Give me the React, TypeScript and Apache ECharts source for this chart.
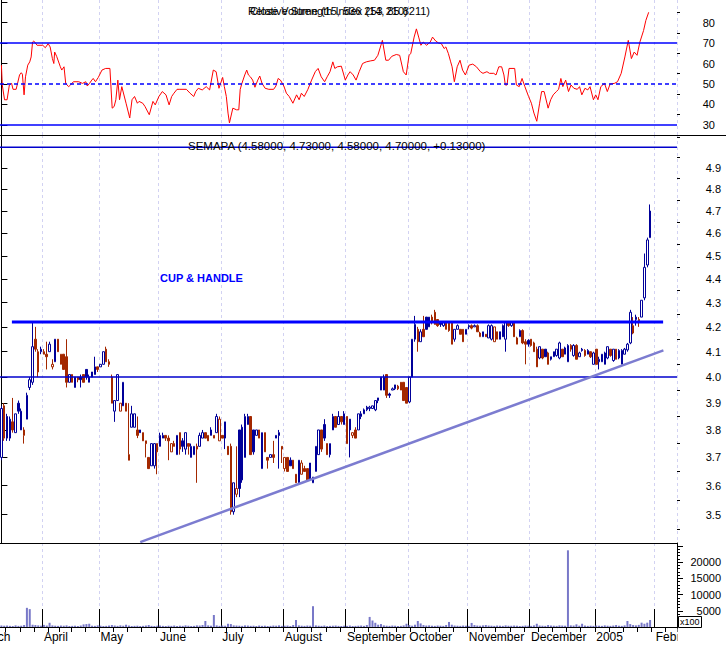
import React, { useEffect, useRef } from "react";
import * as echarts from "echarts";

// ---- calendar ----
const firstDay = "2004-03-11";
const lastDay = "2005-02-10";
const holidays = ["2004-04-09", "2004-04-12"];
// label shown at the first trading day of each month (January 2005 is labelled with the year)
const monthLabels = ["2005", "February", "March", "April", "May", "June", "July", "August", "September", "October", "November", "December"];

// ---- SEMAPA daily candles: [open, close, low, high] ----
const candles: number[][] = [
  [3.70, 3.88, 3.69, 3.89], [3.89, 3.77, 3.76, 3.90], [3.85, 3.77, 3.76, 3.86], [3.77, 3.84, 3.76, 3.85], [3.83, 3.80, 3.79, 3.92],
  [3.79, 3.86, 3.79, 3.86], [3.90, 3.87, 3.86, 3.91], [3.80, 3.87, 3.80, 3.88], [3.78, 3.80, 3.75, 3.81], [3.84, 3.93, 3.84, 3.94],
  [3.96, 3.99, 3.95, 4.00], [3.98, 4.12, 3.97, 4.22], [4.15, 4.11, 4.10, 4.20], [4.02, 4.10, 4.00, 4.11], [4.10, 4.11, 4.09, 4.12],
  [4.10, 4.09, 4.09, 4.11], [4.09, 4.08, 4.03, 4.14], [4.10, 4.13, 4.10, 4.14], [4.04, 4.05, 4.03, 4.07], [4.06, 4.15, 4.06, 4.15],
  [4.15, 4.10, 4.10, 4.15], [4.05, 4.09, 4.05, 4.09], [4.09, 4.03, 4.03, 4.09], [4.08, 3.98, 3.96, 4.15], [3.98, 4.01, 3.98, 4.01],
  [4.01, 3.98, 3.98, 4.01], [3.96, 4.00, 3.96, 4.00], [4.00, 3.99, 3.98, 4.00], [4.00, 3.99, 3.96, 4.01], [4.01, 3.98, 3.98, 4.01],
  [4.03, 4.00, 3.99, 4.03], [3.98, 4.00, 3.98, 4.01], [4.02, 4.00, 4.00, 4.02], [4.01, 4.04, 4.01, 4.08], [4.04, 4.03, 4.02, 4.04],
  [4.04, 4.05, 4.04, 4.05], [4.05, 4.10, 4.05, 4.10], [4.11, 4.06, 4.06, 4.12], [4.06, 4.05, 4.04, 4.07], [4.00, 3.90, 3.90, 4.01],
  [3.87, 3.91, 3.83, 3.91], [3.91, 4.01, 3.91, 4.01], [3.87, 3.90, 3.87, 3.90], [3.89, 3.98, 3.89, 3.98], [3.90, 3.87, 3.87, 3.90],
  [3.71, 3.69, 3.69, 3.90], [3.81, 3.86, 3.81, 3.89], [3.81, 3.86, 3.81, 3.86], [3.80, 3.78, 3.77, 3.85], [3.80, 3.79, 3.79, 3.80],
  [3.79, 3.76, 3.76, 3.79], [3.76, 3.75, 3.70, 3.76], [3.70, 3.66, 3.66, 3.70], [3.67, 3.75, 3.67, 3.75], [3.67, 3.75, 3.66, 3.75],
  [3.75, 3.72, 3.64, 3.75], [3.74, 3.78, 3.74, 3.79], [3.77, 3.78, 3.77, 3.79], [3.78, 3.77, 3.76, 3.78], [3.77, 3.76, 3.69, 3.78],
  [3.72, 3.75, 3.72, 3.75], [3.75, 3.74, 3.74, 3.76], [3.71, 3.78, 3.71, 3.78], [3.79, 3.73, 3.71, 3.79], [3.76, 3.74, 3.72, 3.77],
  [3.73, 3.79, 3.71, 3.79], [3.75, 3.74, 3.71, 3.75], [3.70, 3.74, 3.70, 3.75], [3.71, 3.74, 3.71, 3.74], [3.74, 3.73, 3.61, 3.75],
  [3.74, 3.78, 3.74, 3.79], [3.77, 3.79, 3.77, 3.80], [3.79, 3.77, 3.77, 3.79], [3.78, 3.76, 3.76, 3.78], [3.78, 3.80, 3.78, 3.81],
  [3.78, 3.77, 3.77, 3.78], [3.79, 3.85, 3.79, 3.86], [3.76, 3.84, 3.76, 3.85], [3.78, 3.77, 3.77, 3.78], [3.77, 3.83, 3.73, 3.83],
  [3.74, 3.71, 3.71, 3.74], [3.74, 3.51, 3.50, 3.75], [3.51, 3.61, 3.50, 3.61], [3.57, 3.59, 3.56, 3.74], [3.80, 3.59, 3.56, 3.80],
  [3.81, 3.62, 3.61, 3.82], [3.70, 3.85, 3.70, 3.86], [3.82, 3.85, 3.82, 3.86], [3.85, 3.71, 3.71, 3.85], [3.80, 3.72, 3.71, 3.80],
  [3.78, 3.80, 3.78, 3.80], [3.80, 3.77, 3.77, 3.80], [3.66, 3.79, 3.66, 3.79], [3.79, 3.72, 3.72, 3.79], [3.70, 3.69, 3.66, 3.70],
  [3.70, 3.71, 3.70, 3.71], [3.71, 3.70, 3.68, 3.76], [3.77, 3.78, 3.77, 3.78], [3.79, 3.78, 3.66, 3.80], [3.74, 3.73, 3.68, 3.74],
  [3.66, 3.70, 3.65, 3.70], [3.70, 3.65, 3.65, 3.70], [3.69, 3.67, 3.67, 3.70], [3.69, 3.66, 3.66, 3.69], [3.64, 3.61, 3.61, 3.64],
  [3.61, 3.69, 3.61, 3.69], [3.64, 3.68, 3.64, 3.69], [3.66, 3.65, 3.65, 3.67], [3.66, 3.62, 3.62, 3.66], [3.68, 3.62, 3.62, 3.68],
  [3.61, 3.63, 3.61, 3.63], [3.65, 3.74, 3.65, 3.74], [3.71, 3.80, 3.71, 3.80], [3.80, 3.73, 3.72, 3.80], [3.82, 3.77, 3.76, 3.84],
  [3.75, 3.71, 3.71, 3.75], [3.71, 3.75, 3.70, 3.75], [3.80, 3.85, 3.80, 3.86], [3.85, 3.81, 3.81, 3.85], [3.82, 3.85, 3.82, 3.87],
  [3.85, 3.83, 3.82, 3.85], [3.82, 3.86, 3.82, 3.87], [3.85, 3.75, 3.75, 3.85], [3.84, 3.80, 3.70, 3.84], [3.78, 3.79, 3.77, 3.79],
  [3.80, 3.77, 3.77, 3.81], [3.80, 3.86, 3.80, 3.86], [3.85, 3.86, 3.84, 3.87], [3.86, 3.875, 3.86, 3.88], [3.875, 3.885, 3.87, 3.89],
  [3.88, 3.885, 3.87, 3.89], [3.88, 3.89, 3.88, 3.89], [3.875, 3.91, 3.87, 3.91], [3.91, 3.92, 3.90, 3.92], [3.95, 4.00, 3.95, 4.00],
  [3.95, 4.00, 3.95, 4.01], [4.01, 3.93, 3.92, 4.01], [3.935, 3.93, 3.92, 3.94], [3.95, 3.955, 3.95, 3.96], [3.955, 3.97, 3.95, 3.97],
  [3.965, 3.955, 3.95, 3.97], [3.98, 3.95, 3.95, 3.98], [3.98, 3.91, 3.91, 3.98], [3.96, 3.90, 3.90, 3.96], [3.905, 4.00, 3.90, 4.00],
  [4.00, 4.15, 4.00, 4.15], [4.15, 4.21, 4.14, 4.245], [4.19, 4.14, 4.10, 4.20], [4.14, 4.18, 4.14, 4.19], [4.19, 4.16, 4.16, 4.245],
  [4.24, 4.19, 4.19, 4.24], [4.20, 4.24, 4.20, 4.24], [4.24, 4.22, 4.21, 4.25], [4.26, 4.21, 4.21, 4.27], [4.23, 4.205, 4.20, 4.23],
  [4.22, 4.21, 4.20, 4.22], [4.205, 4.22, 4.20, 4.22], [4.22, 4.19, 4.19, 4.22], [4.22, 4.185, 4.18, 4.22], [4.22, 4.13, 4.13, 4.22],
  [4.15, 4.19, 4.14, 4.19], [4.19, 4.205, 4.19, 4.21], [4.19, 4.17, 4.17, 4.19], [4.19, 4.14, 4.14, 4.19], [4.17, 4.19, 4.17, 4.19],
  [4.20, 4.205, 4.19, 4.21], [4.205, 4.195, 4.19, 4.21], [4.20, 4.205, 4.20, 4.21], [4.205, 4.18, 4.18, 4.21], [4.16, 4.175, 4.16, 4.18],
  [4.16, 4.18, 4.16, 4.18], [4.17, 4.16, 4.16, 4.17], [4.155, 4.205, 4.155, 4.21], [4.15, 4.205, 4.145, 4.21], [4.14, 4.20, 4.14, 4.20],
  [4.18, 4.15, 4.15, 4.18], [4.18, 4.15, 4.15, 4.18], [4.205, 4.16, 4.16, 4.21], [4.15, 4.22, 4.10, 4.22], [4.22, 4.205, 4.20, 4.22],
  [4.205, 4.22, 4.20, 4.22], [4.22, 4.16, 4.16, 4.22], [4.13, 4.155, 4.13, 4.16], [4.16, 4.185, 4.16, 4.19], [4.185, 4.135, 4.13, 4.19],
  [4.14, 4.13, 4.05, 4.15], [4.145, 4.13, 4.12, 4.15], [4.15, 4.125, 4.12, 4.15], [4.135, 4.10, 4.10, 4.14], [4.11, 4.04, 4.04, 4.12],
  [4.075, 4.12, 4.07, 4.12], [4.11, 4.075, 4.07, 4.11], [4.11, 4.08, 4.08, 4.11], [4.095, 4.05, 4.05, 4.10], [4.07, 4.08, 4.065, 4.08],
  [4.08, 4.10, 4.08, 4.10], [4.085, 4.11, 4.08, 4.11], [4.075, 4.135, 4.07, 4.14], [4.11, 4.08, 4.08, 4.11], [4.09, 4.115, 4.09, 4.12],
  [4.06, 4.125, 4.06, 4.13], [4.125, 4.11, 4.10, 4.13], [4.085, 4.125, 4.08, 4.13], [4.125, 4.07, 4.07, 4.13], [4.08, 4.095, 4.08, 4.10],
  [4.11, 4.105, 4.10, 4.115], [4.105, 4.085, 4.08, 4.11], [4.09, 4.105, 4.09, 4.11], [4.10, 4.08, 4.075, 4.10], [4.05, 4.095, 4.05, 4.10],
  [4.11, 4.05, 4.05, 4.11], [4.06, 4.07, 4.03, 4.08], [4.06, 4.09, 4.06, 4.09], [4.05, 4.095, 4.05, 4.10], [4.075, 4.12, 4.07, 4.12],
  [4.11, 4.085, 4.08, 4.11], [4.065, 4.11, 4.06, 4.11], [4.11, 4.07, 4.07, 4.11], [4.075, 4.105, 4.07, 4.11], [4.05, 4.105, 4.05, 4.11],
  [4.09, 4.11, 4.09, 4.115], [4.107, 4.13, 4.10, 4.135], [4.135, 4.26, 4.13, 4.27], [4.175, 4.205, 4.17, 4.24], [4.23, 4.24, 4.205, 4.25],
  [4.23, 4.225, 4.20, 4.24], [4.24, 4.31, 4.24, 4.31], [4.32, 4.45, 4.31, 4.51], [4.46, 4.57, 4.45, 4.58], [4.58, 4.70, 4.58, 4.73],
];

// ---- volume (x100 shares) ----
const volumes: number[] = [
  500, 400, 450, 350, 300, 500, 350, 400, 600, 5900, 5500, 700, 600, 500, 400, 650, 450, 1300, 500, 400,
  350, 450, 400, 500, 300, 350, 400, 300, 450, 800, 900, 1000, 400, 350, 500, 400, 300, 350, 450, 600,
  450, 350, 500, 400, 700, 450, 300, 350, 400, 300, 350, 450, 600, 350, 300, 400, 450, 350, 300, 400,
  350, 450, 300, 400, 350, 500, 400, 300, 350, 500, 450, 600, 1850, 500, 400, 3700, 500, 350, 450, 400,
  1000, 900, 500, 450, 400, 350, 500, 450, 350, 400, 300, 450, 350, 400, 300, 350, 450, 400, 500, 350,
  400, 450, 300, 600, 2150, 500, 400, 350, 450, 400, 6400, 500, 400, 350, 450, 300, 350, 400, 450, 350,
  300, 400, 350, 450, 300, 350, 400, 450, 350, 600, 3100, 2000, 1300, 700, 900, 500, 400, 350, 450, 400,
  300, 350, 500, 1000, 600, 400, 700, 1850, 1100, 600, 450, 500, 400, 350, 450, 400, 350, 600, 1550, 700,
  450, 400, 350, 450, 400, 350, 1250, 600, 450, 400, 500, 600, 450, 400, 350, 450, 400, 350, 500, 400,
  350, 450, 400, 300, 350, 450, 400, 350, 500, 1000, 450, 400, 350, 600, 450, 400, 350, 500, 450, 400,
  23600, 500, 450, 820, 400, 1000, 450, 350, 400, 350, 450, 400, 350, 500, 400, 350, 450, 600, 400, 350,
  500, 1850, 900, 600, 500, 650, 1330, 1000, 1330, 2150,
];

// ---- RSI(14) trace: [bar position, value] ----
const rsiPoints: number[][] = [
  [0, 59.2], [0.3, 49.5], [1.1, 42.3], [2.0, 42.3], [2.8, 49.5], [3.6, 50.3], [4.1, 47.4], [5.2, 47.4], [5.7, 50.3], [6.4, 54.4],
  [7.0, 55.5], [7.4, 54.8], [8.0, 44.7], [8.5, 53.5], [9.3, 59.2], [10.0, 60.8], [10.5, 63.2], [11.0, 70.5], [11.4, 71.0], [12.6, 68.9],
  [14.6, 68.9], [15.5, 67.7], [16.5, 69.7], [17.2, 68.1], [18.0, 62.4], [18.5, 60.0], [18.8, 65.6], [19.5, 63.5], [20.8, 58.4], [21.3, 56.8],
  [22.1, 58.4], [22.7, 50.3], [23.7, 48.7], [24.4, 49.5], [25.4, 51.1], [27.3, 51.1], [28.6, 50.3], [29.8, 51.1], [30.3, 49.0], [31.1, 50.3],
  [31.9, 51.9], [32.4, 52.7], [33.2, 51.1], [34.2, 53.2], [35.5, 56.8], [36.8, 57.6], [38.3, 57.6], [39.1, 38.2], [39.8, 39.0], [40.4, 42.3],
  [41.1, 51.9], [41.7, 42.3], [42.5, 48.7], [44.0, 40.6], [45.3, 33.4], [46.1, 42.3], [47.0, 43.9], [48.0, 40.6], [48.6, 41.5], [49.9, 40.6],
  [50.7, 39.0], [52.2, 35.0], [53.5, 41.5], [54.3, 39.8], [55.6, 43.9], [56.8, 46.3], [58.1, 44.7], [59.2, 39.8], [60.1, 43.9], [60.9, 45.5],
  [62.0, 47.4], [63.0, 47.4], [64.1, 47.4], [65.3, 47.4], [66.6, 45.5], [67.9, 43.9], [68.6, 46.3], [69.5, 47.9], [70.9, 47.1], [72.3, 48.7],
  [73.5, 47.1], [74.8, 56.8], [75.8, 56.0], [76.8, 47.9], [78.1, 53.2], [78.7, 48.7], [79.4, 43.9], [80.0, 35.8], [80.5, 31.0], [81.7, 38.2],
  [83.0, 37.4], [83.8, 37.4], [84.3, 47.4], [84.9, 50.3], [85.9, 54.4], [86.6, 56.8], [87.2, 54.4], [87.9, 53.5], [88.7, 51.9], [89.5, 48.4],
  [90.5, 51.9], [91.2, 53.9], [92.0, 50.3], [93.1, 47.9], [94.4, 47.4], [96.1, 47.4], [96.9, 49.0], [97.7, 52.7], [98.5, 51.9], [99.7, 49.0],
  [100.6, 45.5], [101.6, 43.9], [102.9, 40.6], [104.2, 44.7], [105.1, 42.3], [105.9, 45.5], [106.9, 43.9], [108.2, 47.4], [109.5, 51.9], [110.8, 56.0],
  [111.8, 57.6], [112.9, 53.5], [114.1, 51.1], [115.0, 53.5], [116.0, 56.0], [117.0, 60.8], [117.7, 57.6], [118.6, 58.4], [120.0, 58.7], [121.4, 51.9],
  [122.3, 54.4], [123.1, 56.0], [124.2, 54.4], [125.2, 51.9], [126.3, 56.0], [127.5, 60.0], [128.8, 60.8], [130.4, 61.3], [131.7, 61.6], [132.9, 64.0],
  [134.5, 71.3], [135.7, 61.6], [136.7, 61.6], [137.8, 63.5], [139.4, 64.4], [140.6, 64.0], [141.9, 56.0], [142.9, 54.4], [143.9, 64.0], [144.5, 64.8],
  [145.7, 72.9], [146.5, 76.9], [147.3, 72.9], [148.1, 68.9], [148.9, 70.5], [150.1, 68.9], [151.4, 70.5], [152.2, 72.9], [153.3, 71.0], [154.3, 70.0],
  [155.3, 69.7], [156.3, 67.3], [156.9, 68.1], [157.8, 64.8], [158.6, 60.8], [159.1, 58.4], [159.9, 51.1], [160.9, 58.4], [161.9, 61.6], [162.8, 56.8],
  [163.8, 54.4], [165.1, 59.2], [166.4, 59.7], [167.7, 58.4], [169.1, 56.0], [170.0, 55.2], [171.4, 56.0], [172.3, 55.2], [173.8, 55.2], [174.6, 54.4],
  [175.6, 58.4], [176.6, 58.4], [177.4, 54.4], [177.9, 49.5], [178.5, 49.5], [179.2, 57.6], [181.2, 57.6], [181.8, 49.5], [182.8, 48.7], [183.8, 52.7],
  [184.8, 48.7], [186.1, 43.9], [187.1, 40.6], [188.0, 35.8], [189.0, 31.8], [190.0, 40.6], [190.7, 46.3], [191.6, 46.3], [193.0, 38.2], [193.9, 42.3],
  [194.8, 44.7], [195.9, 46.3], [196.7, 47.4], [197.5, 52.7], [198.2, 48.7], [199.2, 51.9], [200.2, 46.3], [201.1, 49.5], [202.1, 47.9], [203.3, 47.4],
  [204.1, 48.7], [204.9, 44.7], [206.0, 47.9], [207.0, 47.1], [207.8, 48.7], [209.0, 42.3], [209.8, 44.7], [210.6, 42.3], [211.6, 48.7], [212.9, 50.3],
  [213.9, 46.3], [214.9, 50.0], [216.4, 50.3], [217.5, 51.1], [218.8, 55.2], [220.1, 63.2], [221.3, 71.3], [222.4, 62.4], [223.4, 65.6], [224.4, 64.0],
  [225.4, 70.5], [226.7, 76.1], [227.5, 81.0], [228.5, 85.0],
];

// ---- reference lines ----
const rsiLevels = [70, 50, 30];
const priceLevels = [5.0, 4.0];
const resistanceLine = [[3.7, 4.22], [233.6, 4.22]];
const trendLine = [[49.0, 3.408], [233.7, 4.105]];

// ---- axis ticks ----
const rsiLabels = [30, 40, 50, 60, 70, 80];
const rsiMajor = [30, 40, 50, 60, 70, 80, 90];
const rsiMinor = [35, 45, 55, 65, 75, 85];
const priceLabels = [3.5, 3.6, 3.7, 3.8, 3.9, 4.0, 4.1, 4.2, 4.3, 4.4, 4.5, 4.6, 4.7, 4.8, 4.9];
const priceMajor = [3.5, 3.6, 3.7, 3.8, 3.9, 4.0, 4.1, 4.2, 4.3, 4.4, 4.5, 4.6, 4.7, 4.8, 4.9, 5.0];
const priceMinor = [3.45, 3.55, 3.65, 3.75, 3.85, 3.95, 4.05, 4.15, 4.25, 4.35, 4.45, 4.55, 4.65, 4.75, 4.85, 4.95, 5.05];
const volLabels = [5000, 10000, 15000, 20000];
const volMajor = [5000, 10000, 15000, 20000, 25000];
const volMinor = [1000, 2000, 3000, 4000, 6000, 7000, 8000, 9000, 11000, 12000, 13000, 14000, 16000, 17000, 18000, 19000, 21000, 22000, 23000, 24000];

const FONT = '"Liberation Sans", Arial, sans-serif';
const BLUE = "#000099";
const BROWN = "#a32800";

function buildDates(): Date[] {
  const out: Date[] = [];
  const d = new Date(firstDay + "T00:00:00Z");
  const end = new Date(lastDay + "T00:00:00Z");
  while (d <= end) {
    const wd = d.getUTCDay();
    const iso = d.toISOString().slice(0, 10);
    if (wd !== 0 && wd !== 6 && holidays.indexOf(iso) < 0) out.push(new Date(d.getTime()));
    d.setUTCDate(d.getUTCDate() + 1);
  }
  return out;
}

export default function App() {
  const ref = useRef<HTMLDivElement>(null);
  useEffect(() => {
    const chart = echarts.init(ref.current!, null, { renderer: "svg" });
    const dates = buildDates();
    const cats = dates.map((d) => d.toISOString().slice(0, 10));
    const N = cats.length;
    const monthStart = dates.map((d, i) => i > 0 && d.getUTCMonth() !== dates[i - 1].getUTCMonth());
    const weekStart = dates.map((d, i) => i > 0 && d.getUTCDay() < dates[i - 1].getUTCDay());

    const candleItems = candles.map((c, i) => {
      const prev = i > 0 ? candles[i - 1][1] : c[0];
      const col = c[1] >= prev ? BLUE : BROWN;
      const fill = c[1] > c[0] ? "#ffffff" : col;
      return {
        value: c,
        itemStyle: { color: fill, color0: fill, borderColor: col, borderColor0: col, borderColorDoji: col, borderWidth: 1 },
      };
    });

    const monthSplit = {
      show: true,
      interval: (i: number) => monthStart[i],
      lineStyle: { color: "#d2d2f2", type: [3, 3], width: 1 },
    };
    const hiddenCat = (grid: number, line: boolean) => ({
      type: "category",
      gridIndex: grid,
      data: cats,
      boundaryGap: true,
      axisLine: { show: line, lineStyle: { color: "#000", width: 1 } },
      axisTick: { show: false },
      axisLabel: { show: false },
      splitLine: monthSplit,
    });
    const hiddenVal = (grid: number) => ({
      type: "value",
      gridIndex: grid,
      min: -0.5,
      max: N - 0.5,
      show: false,
      splitLine: { show: false },
    });
    const lbl = (vals: number[], margin: number, fmt: (v: number) => string) => ({
      customValues: vals,
      align: "right",
      margin,
      fontSize: 11,
      fontFamily: FONT,
      color: "#000",
      formatter: fmt,
    });
    const tickOnly = (base: any, vals: number[]) => ({
      ...base,
      axisLine: { show: false },
      axisLabel: { show: false },
      axisTick: { show: true, customValues: vals, length: 3, lineStyle: { color: "#000" } },
      splitLine: { show: false },
    });

    const rsiAxis = { type: "value", gridIndex: 0, position: "right", min: 25.1, max: 91.0 };
    const priceAxis = { type: "log", logBase: 10, gridIndex: 1, position: "right", min: 3.405, max: 5.06 };
    const volAxis = { type: "value", gridIndex: 2, position: "right", min: 0, max: 25850 };

    const option: any = {
      animation: false,
      backgroundColor: "#ffffff",
      grid: [
        { left: 0, right: 49, top: 0, height: 135 },
        { left: 0, right: 49, top: 135, height: 408 },
        { left: 0, right: 49, top: 543, height: 84 },
      ],
      xAxis: [
        hiddenCat(0, false),
        hiddenVal(0),
        hiddenCat(1, true),
        hiddenVal(1),
        {
          type: "category",
          gridIndex: 2,
          data: cats,
          boundaryGap: true,
          axisLine: { show: true, lineStyle: { color: "#000", width: 1 } },
          axisTick: { show: true, interval: (i: number) => weekStart[i], length: 5, lineStyle: { color: "#000" } },
          axisLabel: {
            show: true,
            interval: (i: number) => monthStart[i],
            formatter: (v: string) => monthLabels[Number(v.slice(5, 7)) - 1],
            align: "left",
            margin: 4,
            fontSize: 12,
            fontFamily: FONT,
            color: "#000",
          },
          splitLine: monthSplit,
        },
        {
          type: "category",
          gridIndex: 2,
          data: cats,
          boundaryGap: true,
          axisLine: { show: false },
          axisTick: { show: true, interval: (i: number) => monthStart[i], length: 18, lineStyle: { color: "#000" } },
          axisLabel: { show: false },
          splitLine: { show: false },
        },
      ],
      yAxis: [
        {
          ...rsiAxis,
          axisLine: { show: true, lineStyle: { color: "#000" } },
          axisTick: { show: true, customValues: rsiMajor, length: 6, lineStyle: { color: "#000" } },
          axisLabel: lbl(rsiLabels, 38, (v: number) => String(Math.round(v))),
          splitLine: { show: false },
        },
        tickOnly(rsiAxis, rsiMinor),
        {
          ...priceAxis,
          axisLine: { show: true, lineStyle: { color: "#000" } },
          axisTick: { show: true, customValues: priceMajor, length: 6, lineStyle: { color: "#000" } },
          axisLabel: lbl(priceLabels, 44, (v: number) => Number(v).toFixed(1)),
          splitLine: { show: false },
        },
        tickOnly(priceAxis, priceMinor),
        {
          ...volAxis,
          axisLine: { show: true, lineStyle: { color: "#000" } },
          axisTick: { show: true, customValues: volMajor, length: 6, lineStyle: { color: "#000" } },
          axisLabel: lbl(volLabels, 44, (v: number) => String(Math.round(v))),
          splitLine: { show: false },
        },
        tickOnly(volAxis, volMinor),
      ],
      series: [
        {
          name: "RSI",
          type: "line",
          xAxisIndex: 1,
          yAxisIndex: 0,
          data: rsiPoints,
          showSymbol: false,
          symbol: "none",
          lineStyle: { color: "#ff0000", width: 1 },
          z: 4,
          markLine: {
            silent: true,
            symbol: ["none", "none"],
            label: { show: false },
            data: rsiLevels.map((v) => ({
              yAxis: v,
              lineStyle: { color: "#0000ff", width: 1.5, type: v === 50 ? [4, 3] : "solid" },
            })),
          },
        },
        {
          name: "SEMAPA",
          type: "candlestick",
          xAxisIndex: 2,
          yAxisIndex: 2,
          barWidth: 2,
          data: candleItems,
          z: 2,
        },
        ...priceLevels.map((p) => ({
          type: "line",
          xAxisIndex: 3,
          yAxisIndex: 2,
          data: [[-0.5, p], [N - 0.5, p]],
          symbol: "none",
          lineStyle: { color: "#0000cc", width: 1.5 },
          z: 3,
        })),
        {
          type: "line",
          xAxisIndex: 3,
          yAxisIndex: 2,
          data: resistanceLine,
          symbol: "none",
          lineStyle: { color: "#0000ff", width: 3 },
          z: 5,
        },
        {
          type: "line",
          xAxisIndex: 3,
          yAxisIndex: 2,
          data: trendLine,
          symbol: "none",
          lineStyle: { color: "#7c7cd0", width: 2.5 },
          z: 5,
        },
        {
          name: "Volume",
          type: "bar",
          xAxisIndex: 4,
          yAxisIndex: 4,
          data: volumes,
          barWidth: 2,
          itemStyle: { color: "#7878c8" },
          z: 2,
        },
      ],
      graphic: [
        { type: "line", z: 50, shape: { x1: 0, y1: 135.5, x2: 726, y2: 135.5 }, style: { stroke: "#000", lineWidth: 1 } },
        {
          type: "text", z: 60, x: 248, y: 11,
          style: { text: "Relative Strength Index (14, 85.8211)", fontSize: 11, fontFamily: FONT, fill: "#000", verticalAlign: "middle", textVerticalAlign: "middle" },
        },
        {
          type: "text", z: 60, x: 250, y: 11,
          style: { text: "Close Volume (15, 536 253 210)", fontSize: 11, fontFamily: FONT, fill: "#000", verticalAlign: "middle", textVerticalAlign: "middle" },
        },
        {
          type: "text", z: 60, x: 188, y: 146,
          style: { text: "SEMAPA (4.58000, 4.73000, 4.58000, 4.70000, +0.13000)", fontSize: 11.5, fontFamily: FONT, fill: "#000", verticalAlign: "middle", textVerticalAlign: "middle" },
        },
        {
          type: "text", z: 60, x: 160, y: 278,
          style: { text: "CUP & HANDLE", fontSize: 11, fontWeight: "bold", fontFamily: FONT, fill: "#0000ff", verticalAlign: "middle", textVerticalAlign: "middle" },
        },
        {
          type: "text", z: 60, x: 10.5, y: 637,
          style: { text: "March", fontSize: 12, fontFamily: FONT, fill: "#000", align: "right", textAlign: "right", verticalAlign: "middle", textVerticalAlign: "middle" },
        },
        { type: "rect", z: 55, shape: { x: 677.5, y: 628.5, width: 48.5, height: 17 }, style: { fill: "#ffffff", stroke: "none" } },
        { type: "rect", z: 56, shape: { x: 678.5, y: 616.5, width: 23, height: 11 }, style: { fill: "#ffffff", stroke: "#000", lineWidth: 1 } },
        {
          type: "text", z: 57, x: 680, y: 622,
          style: { text: "x100", fontSize: 9, fontFamily: FONT, fill: "#000", verticalAlign: "middle", textVerticalAlign: "middle" },
        },
      ],
    };
    chart.setOption(option);
    return () => chart.dispose();
  }, []);
  return (
    <div
      ref={ref}
      style={{ position: "absolute", left: 0, top: 0, width: 726, height: 645, background: "#ffffff" }}
    />
  );
}
